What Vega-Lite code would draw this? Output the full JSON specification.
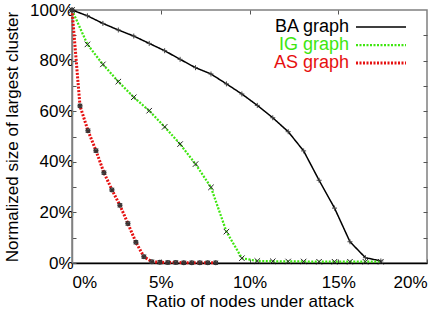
{
  "$schema": "https://vega.github.io/schema/vega-lite/v6.json",
  "width": 355,
  "height": 253,
  "autosize": "none",
  "padding": {"left": 72, "top": 10, "right": 9, "bottom": 49},
  "config": {
    "font": "Liberation Sans",
    "view": {"stroke": "#808080", "strokeWidth": 1.5},
    "axis": {"grid": false, "labelFont": "Liberation Sans", "titleFont": "Liberation Sans", "labelFontSize": 17, "titleFontSize": 17, "titleFontWeight": "normal", "labelColor": "black", "titleColor": "black", "tickColor": "#555", "tickWidth": 1}
  },
  "data": {
    "values": [
      {"series": "BA graph", "x": 0, "y": 100},
      {"series": "BA graph", "x": 0.87, "y": 97.7},
      {"series": "BA graph", "x": 1.74, "y": 94.7},
      {"series": "BA graph", "x": 2.61, "y": 92.1},
      {"series": "BA graph", "x": 3.48, "y": 89.7},
      {"series": "BA graph", "x": 4.35, "y": 86.8},
      {"series": "BA graph", "x": 5.22, "y": 83.9},
      {"series": "BA graph", "x": 6.09, "y": 80.5},
      {"series": "BA graph", "x": 6.96, "y": 77.2},
      {"series": "BA graph", "x": 7.83, "y": 74.7},
      {"series": "BA graph", "x": 8.70, "y": 70.8},
      {"series": "BA graph", "x": 9.57, "y": 66.8},
      {"series": "BA graph", "x": 10.44, "y": 62.3},
      {"series": "BA graph", "x": 11.31, "y": 57.4},
      {"series": "BA graph", "x": 12.18, "y": 51.9},
      {"series": "BA graph", "x": 13.05, "y": 44.3},
      {"series": "BA graph", "x": 13.92, "y": 32.7},
      {"series": "BA graph", "x": 14.79, "y": 21.7},
      {"series": "BA graph", "x": 15.66, "y": 8.4},
      {"series": "BA graph", "x": 16.53, "y": 2.1},
      {"series": "BA graph", "x": 17.40, "y": 0.8},
      {"series": "IG graph", "x": 0, "y": 100},
      {"series": "IG graph", "x": 0.87, "y": 86.4},
      {"series": "IG graph", "x": 1.74, "y": 78.5},
      {"series": "IG graph", "x": 2.61, "y": 71.7},
      {"series": "IG graph", "x": 3.48, "y": 65.5},
      {"series": "IG graph", "x": 4.35, "y": 60.2},
      {"series": "IG graph", "x": 5.22, "y": 53.8},
      {"series": "IG graph", "x": 6.09, "y": 47.0},
      {"series": "IG graph", "x": 6.96, "y": 39.1},
      {"series": "IG graph", "x": 7.83, "y": 29.9},
      {"series": "IG graph", "x": 8.70, "y": 12.4},
      {"series": "IG graph", "x": 9.57, "y": 1.9},
      {"series": "IG graph", "x": 10.44, "y": 0.8},
      {"series": "IG graph", "x": 11.31, "y": 0.7},
      {"series": "IG graph", "x": 12.18, "y": 0.6},
      {"series": "IG graph", "x": 13.05, "y": 0.6},
      {"series": "IG graph", "x": 13.92, "y": 0.5},
      {"series": "IG graph", "x": 14.79, "y": 0.5},
      {"series": "IG graph", "x": 15.66, "y": 0.5},
      {"series": "IG graph", "x": 16.53, "y": 0.5},
      {"series": "IG graph", "x": 17.40, "y": 0.5},
      {"series": "AS graph", "x": 0, "y": 100},
      {"series": "AS graph", "x": 0.45, "y": 62.1},
      {"series": "AS graph", "x": 0.90, "y": 52.3},
      {"series": "AS graph", "x": 1.35, "y": 44.4},
      {"series": "AS graph", "x": 1.80, "y": 35.7},
      {"series": "AS graph", "x": 2.25, "y": 28.9},
      {"series": "AS graph", "x": 2.70, "y": 22.8},
      {"series": "AS graph", "x": 3.15, "y": 15.6},
      {"series": "AS graph", "x": 3.60, "y": 8.2},
      {"series": "AS graph", "x": 4.05, "y": 2.5},
      {"series": "AS graph", "x": 4.50, "y": 0.5},
      {"series": "AS graph", "x": 4.95, "y": 0.3},
      {"series": "AS graph", "x": 5.40, "y": 0.2},
      {"series": "AS graph", "x": 5.85, "y": 0.2},
      {"series": "AS graph", "x": 6.30, "y": 0.1},
      {"series": "AS graph", "x": 6.75, "y": 0.1},
      {"series": "AS graph", "x": 7.20, "y": 0.1},
      {"series": "AS graph", "x": 7.65, "y": 0.1},
      {"series": "AS graph", "x": 8.10, "y": 0.1}
    ]
  },
  "layer": [
    {
      "mark": {"type": "line"},
      "encoding": {
        "x": {"field": "x", "type": "quantitative", "scale": {"domain": [0, 20], "nice": false},
          "axis": {"orient": "bottom", "values": [0, 5, 10, 15, 20], "labelExpr": "datum.value + '%'", "title": "Ratio of nodes under attack", "tickSize": -4, "labelFlush": true, "labelPadding": 15, "titlePadding": 3, "domainColor": "black", "domainWidth": 1.5}},
        "y": {"field": "y", "type": "quantitative", "scale": {"domain": [0, 100], "nice": false},
          "axis": {"orient": "left", "values": [0, 10, 20, 30, 40, 50, 60, 70, 80, 90, 100], "labelExpr": "datum.value % 20 == 0 ? datum.value + '%' : ''", "title": "Normalized size of largest cluster", "tickSize": -4, "labelPadding": 3, "titlePadding": 8, "domainColor": "#808080", "domainWidth": 1.5}},
        "color": {"field": "series", "type": "nominal",
          "scale": {"domain": ["BA graph", "IG graph", "AS graph"], "range": ["#000000", "#3ee60f", "#e61010"]},
          "legend": {"title": null, "orient": "none", "legendX": 300, "legendY": 8, "symbolType": "M-5,0H5", "symbolSize": 100, "symbolStrokeWidth": 2, "labelAlign": "right", "labelOffset": -41, "labelFontSize": 18, "labelFont": "Liberation Sans", "rowPadding": 0,
            "encode": {
              "labels": {"update": {"fill": {"scale": "color", "field": "value"}}}
            }}},
        "strokeDash": {"field": "series", "type": "nominal",
          "scale": {"domain": ["BA graph", "IG graph", "AS graph"], "range": [[1, 0], [2, 1.5], [2, 1.5]]},
          "legend": {"title": null, "orient": "none", "legendX": 300, "legendY": 8, "symbolType": "M-5,0H5", "symbolSize": 100, "symbolStrokeWidth": 2, "labelAlign": "right", "labelOffset": -41, "labelFontSize": 18, "labelFont": "Liberation Sans", "rowPadding": 0,
            "encode": {
              "labels": {"update": {"fill": {"scale": "color", "field": "value"}}}
            }}},
        "strokeWidth": {"field": "series", "type": "nominal",
          "scale": {"domain": ["BA graph", "IG graph", "AS graph"], "range": [1.5, 3, 2.5]}, "legend": null}
      }
    },
    {
      "transform": [{"filter": "datum.series == 'BA graph'"}],
      "mark": {"type": "point", "filled": false, "strokeWidth": 1, "color": "#444", "opacity": 1, "shape": "M-1,0L1,0M0,-1L0,1", "size": 25},
      "encoding": {
        "x": {"field": "x", "type": "quantitative",
          "axis": {"orient": "top", "values": [5, 10, 15], "labels": false, "title": null, "tickSize": -4, "domain": false}},
        "y": {"field": "y", "type": "quantitative",
          "axis": {"orient": "right", "values": [10, 20, 30, 40, 50, 60, 70, 80, 90], "labels": false, "title": null, "tickSize": -4, "domain": false}}
      }
    },
    {
      "transform": [{"filter": "datum.series == 'IG graph'"}],
      "mark": {"type": "point", "filled": false, "strokeWidth": 1, "color": "#222", "opacity": 1, "shape": "M-1,-1L1,1M-1,1L1,-1", "size": 30},
      "encoding": {
        "x": {"field": "x", "type": "quantitative", "axis": null},
        "y": {"field": "y", "type": "quantitative", "axis": null}
      }
    },
    {
      "transform": [{"filter": "datum.series == 'AS graph'"}],
      "mark": {"type": "point", "filled": false, "strokeWidth": 1, "color": "#333", "opacity": 1, "shape": "M-1,0L1,0M0,-1L0,1M-0.8,-0.8L0.8,0.8M-0.8,0.8L0.8,-0.8M-0.7,-0.7H0.7V0.7H-0.7Z", "size": 25},
      "encoding": {
        "x": {"field": "x", "type": "quantitative", "axis": null},
        "y": {"field": "y", "type": "quantitative", "axis": null}
      }
    }
  ],
  "resolve": {"axis": {"x": "independent", "y": "independent"}}
}
